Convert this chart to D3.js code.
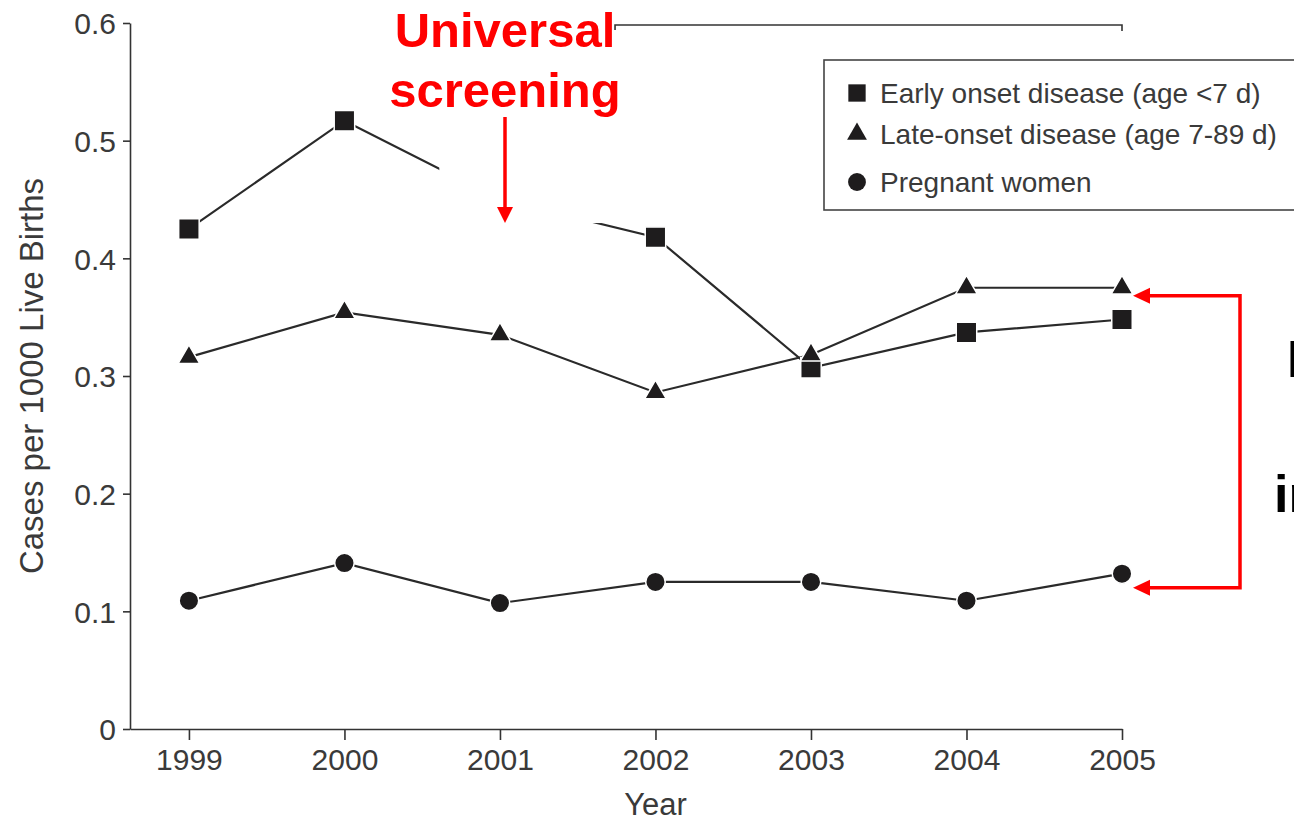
<!DOCTYPE html>
<html><head><meta charset="utf-8">
<script src="https://cdn.jsdelivr.net/npm/d3@7"></script>
<style>
html,body{margin:0;padding:0;background:#fff;}
svg{display:block;font-family:"Liberation Sans",Arial,sans-serif;}
</style></head>
<body>
<svg id="chart" width="1294" height="821"></svg>
<script>
const years = [1999, 2000, 2001, 2002, 2003, 2004, 2005];
const earlyOnset = [0.425, 0.517, 0.45, 0.418, 0.307, 0.337, 0.348];
const lateOnset = [0.316, 0.354, 0.335, 0.286, 0.318, 0.375, 0.375];
const pregnantWomen = [0.109, 0.141, 0.107, 0.125, 0.125, 0.109, 0.132];
const yTicks = [0, 0.1, 0.2, 0.3, 0.4, 0.5, 0.6];
const legendLabels = ["Early onset disease (age <7 d)", "Late-onset disease (age 7-89 d)", "Pregnant women"];
const seriesNames = ["early", "late", "pregnant"];

const svg = d3.select("#chart");
const x = d3.scaleLinear().domain([1998.621, 2005]).range([130, 1122]);
const y = d3.scaleLinear().domain([0, 0.6]).range([729, 23]);
const textCol = "#3a3a3a";

// Axes
const yAxis = svg.append("g").attr("transform", "translate(130,0)")
  .call(d3.axisLeft(y).tickValues(yTicks).tickSize(7).tickSizeOuter(0).tickPadding(7)
    .tickFormat(d => d === 0 ? "0" : d3.format(".1f")(d)));
const xAxis = svg.append("g").attr("transform", "translate(0,729)")
  .call(d3.axisBottom(x).tickValues(years).tickSize(11).tickSizeOuter(0).tickPadding(9)
    .tickFormat(d3.format("d")));
[yAxis, xAxis].forEach(a => {
  a.selectAll("path,line").attr("stroke", "#333").attr("stroke-width", 1.6);
  a.selectAll("text").attr("fill", textCol).style("font-size", "30px")
   .style("font-family", "'Liberation Sans',Arial,sans-serif");
});
yAxis.selectAll("text").attr("dy", "0.36em");

svg.append("text").attr("x", x(2002)).attr("y", 815).attr("text-anchor", "middle")
  .attr("fill", textCol).style("font-size", "31px").text("Year");
svg.append("text").attr("transform", "translate(43,376) rotate(-90)").attr("text-anchor", "middle")
  .attr("fill", textCol).style("font-size", "33px").text("Cases per 1000 Live Births");

// Series
const symbols = {early: d3.symbolSquare, late: d3.symbolTriangle, pregnant: d3.symbolCircle};
const sizes = {early: 420, late: 200, pregnant: 300};
const data = {early: earlyOnset, late: lateOnset, pregnant: pregnantWomen};
const line = d3.line().x((d, i) => x(years[i])).y(d => y(d));

seriesNames.forEach(name => {
  svg.append("path").datum(data[name]).attr("d", line)
    .attr("fill", "none").attr("stroke", "#2a2a2a").attr("stroke-width", 2.2);
});
seriesNames.forEach(name => {
  svg.append("g").selectAll("path").data(data[name]).join("path")
    .attr("transform", (d, i) => `translate(${x(years[i])},${y(d)})`)
    .attr("d", d3.symbol(symbols[name], sizes[name]))
    .attr("fill", "#1e1c1d").attr("stroke", "#ffffff").attr("stroke-width", 1.5);
});

// White annotation box hiding part of early-onset line
svg.append("rect").attr("x", x(2000.61)).attr("y", y(0.52))
  .attr("width", x(2001.685) - x(2000.61)).attr("height", y(0.43) - y(0.52))
  .attr("fill", "#fff");

// Top bracket line
svg.append("path")
  .attr("d", `M${x(2001.74)},30 V25 H${x(2005)} V31`)
  .attr("fill", "none").attr("stroke", "#333").attr("stroke-width", 1.6);

// Legend
const lg = svg.append("g");
lg.append("rect").attr("x", 824).attr("y", 60).attr("width", 520).attr("height", 150)
  .attr("fill", "#fff").attr("stroke", "#444").attr("stroke-width", 1.6);
const legendY = [93, 134, 182];
seriesNames.forEach((name, i) => {
  lg.append("path").attr("transform", `translate(857,${legendY[i]})`)
    .attr("d", d3.symbol(symbols[name], name === "early" ? 300 : name === "late" ? 170 : 250))
    .attr("fill", "#1e1c1d");
  lg.append("text").attr("x", 880).attr("y", legendY[i]).attr("dy", "0.36em")
    .attr("fill", textCol).style("font-size", "28px").text(legendLabels[i]);
});

// Red annotation: Universal screening
const red = "#ff0000";
svg.append("text").attr("x", 505).attr("y", 47).attr("text-anchor", "middle")
  .attr("fill", red).style("font-size", "49px").style("font-weight", "bold").text("Universal");
svg.append("text").attr("x", 505).attr("y", 107).attr("text-anchor", "middle")
  .attr("fill", red).style("font-size", "49px").style("font-weight", "bold").text("screening");
svg.append("line").attr("x1", 505).attr("x2", 505).attr("y1", 117).attr("y2", 210)
  .attr("stroke", red).attr("stroke-width", 3.5);
svg.append("path").attr("d", "M497,207 L513,207 L505,223 Z").attr("fill", red);

// Right red bracket with arrows
const yTop = y(lateOnset[6]) + 8, yBot = y(pregnantWomen[6]) + 14;
svg.append("path").attr("d", `M1147,${yTop} H1240 V${yBot} H1147`)
  .attr("fill", "none").attr("stroke", red).attr("stroke-width", 3.5);
[yTop, yBot].forEach(yy => {
  svg.append("path").attr("d", `M1133,${yy} L1150,${yy - 8} L1150,${yy + 8} Z`).attr("fill", red);
});

// Cut-off text on the right (cropped in the reference as well)
svg.append("text").attr("x", 1287).attr("y", 377).attr("fill", "#000")
  .style("font-size", "52px").style("font-weight", "bold").text("No");
svg.append("text").attr("x", 1274).attr("y", 512).attr("fill", "#000")
  .style("font-size", "52px").style("font-weight", "bold").text("in");
</script>
</body></html>
